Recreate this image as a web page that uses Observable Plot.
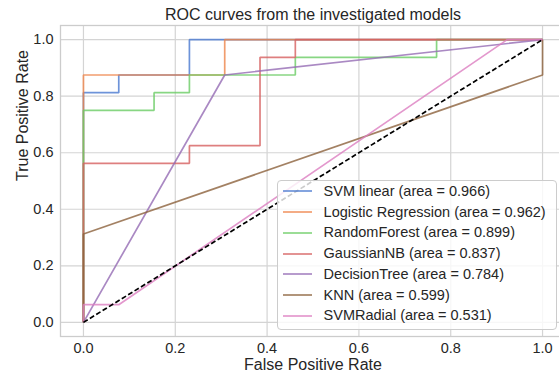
<!DOCTYPE html>
<html><head><meta charset="utf-8">
<script src="https://cdn.jsdelivr.net/npm/d3@7"></script>
<script src="https://cdn.jsdelivr.net/npm/@observablehq/plot@0.6"></script>
<style>
body{margin:0;background:#fff;}
#wrap{position:relative;width:559px;height:372px;overflow:hidden;font-family:"Liberation Sans",Arial,sans-serif;color:#262626;}
#chart{width:565px;}
#chart svg{max-width:none !important;display:block;}
#legend{position:absolute;left:277px;top:180px;width:280px;height:150px;box-sizing:border-box;border:1px solid #cccccc;border-radius:4px;background:rgba(255,255,255,0.8);font-size:14.5px;}
.row{height:20.73px;line-height:20.73px;display:flex;align-items:center;white-space:nowrap;}
.row svg{margin-left:5px;margin-right:11.6px;flex:none;}
</style></head>
<body>
<div id="wrap"><div id="chart"></div><div id="legend"></div></div>
<script>
const title = "ROC curves from the investigated models";
const xLabel = "False Positive Rate";
const yLabel = "True Positive Rate";
const models = ["SVM linear", "Logistic Regression", "RandomForest", "GaussianNB", "DecisionTree", "KNN", "SVMRadial"];
const aucs = [0.966, 0.962, 0.899, 0.837, 0.784, 0.599, 0.531];
const colors = ["#4878d0", "#ee854a", "#6acc64", "#d65f5f", "#956cb4", "#8c613c", "#dc7ec0"];
const xTicks = [0.0, 0.2, 0.4, 0.6, 0.8, 1.0];
const yTicks = [0.0, 0.2, 0.4, 0.6, 0.8, 1.0];

const svmLinearFpr = [0, 0, 0.0769, 0.0769, 0.2308, 0.2308, 1];
const svmLinearTpr = [0, 0.8125, 0.8125, 0.875, 0.875, 1, 1];
const logRegFpr = [0, 0, 0.3077, 0.3077, 1];
const logRegTpr = [0, 0.875, 0.875, 1, 1];
const rfFpr = [0, 0, 0.1538, 0.1538, 0.2308, 0.2308, 0.4615, 0.4615, 0.7692, 0.7692, 1];
const rfTpr = [0, 0.75, 0.75, 0.8125, 0.8125, 0.875, 0.875, 0.9375, 0.9375, 1, 1];
const gnbFpr = [0, 0, 0.2308, 0.2308, 0.3846, 0.3846, 0.4615, 0.4615, 1];
const gnbTpr = [0, 0.5625, 0.5625, 0.625, 0.625, 0.9375, 0.9375, 1, 1];
const dtFpr = [0, 0.3077, 1];
const dtTpr = [0, 0.875, 1];
const knnFpr = [0, 0, 1, 1];
const knnTpr = [0, 0.3125, 0.875, 1];
const svmRadialFpr = [0, 0, 0.0769, 0.9231, 1];
const svmRadialTpr = [0, 0.0625, 0.0625, 1, 1];
const chanceFpr = [0, 1];
const chanceTpr = [0, 1];

const fprs = [svmLinearFpr, logRegFpr, rfFpr, gnbFpr, dtFpr, knnFpr, svmRadialFpr];
const tprs = [svmLinearTpr, logRegTpr, rfTpr, gnbTpr, dtTpr, knnTpr, svmRadialTpr];
const rows = models.flatMap((m, i) => fprs[i].map((f, j) => ({model: m, fpr: f, tpr: tprs[i][j]})));
const chance = chanceFpr.map((f, j) => ({fpr: f, tpr: chanceTpr[j]}));

const fmt = d3.format(".1f");
const chart = Plot.plot({
  width: 565, height: 372,
  marginLeft: 60, marginRight: 0, marginTop: 25, marginBottom: 36,
  style: {fontFamily: '"Liberation Sans", Arial, sans-serif', fontSize: "14.5px", color: "#262626", background: "white", maxWidth: "none"},
  x: {domain: [-0.05, 1.05]},
  y: {domain: [-0.05, 1.05]},
  color: {domain: models, range: colors},
  marks: [
    Plot.gridX(xTicks, {stroke: "#d4d4d4", strokeOpacity: 1, strokeWidth: 1.2}),
    Plot.gridY(yTicks, {stroke: "#d4d4d4", strokeOpacity: 1, strokeWidth: 1.2}),
    Plot.frame({stroke: "#cccccc", strokeWidth: 1.3}),
    Plot.axisX(xTicks, {tickSize: 0, tickPadding: 6, tickFormat: fmt, label: null}),
    Plot.axisY(yTicks, {tickSize: 0, tickPadding: 7, tickFormat: fmt, label: null}),
    Plot.line(rows, {x: "fpr", y: "tpr", z: "model", stroke: "model", strokeWidth: 1.7, strokeOpacity: 0.8, strokeLinecap: "butt", strokeLinejoin: "miter"}),
    Plot.line(chance, {x: "fpr", y: "tpr", stroke: "black", strokeWidth: 1.7, strokeDasharray: "5,2.5", strokeLinecap: "butt"}),
    Plot.text([title], {frameAnchor: "top", dy: -10.5, fontSize: 16, lineAnchor: "middle"}),
    Plot.text([xLabel], {frameAnchor: "bottom", dy: 28, fontSize: 16, lineAnchor: "middle"}),
    Plot.text([yLabel], {frameAnchor: "left", dx: -38, rotate: -90, fontSize: 16, lineAnchor: "middle"})
  ]
});
document.getElementById("chart").append(chart);

const legend = document.getElementById("legend");
models.forEach((m, i) => {
  const row = document.createElement("div");
  row.className = "row";
  row.innerHTML = `<svg width="29" height="4"><line x1="0" x2="29" y1="2" y2="2" stroke="${colors[i]}" stroke-width="1.7" stroke-opacity="0.8"/></svg><span>${m} (area = ${aucs[i].toFixed(3)})</span>`;
  legend.append(row);
});
</script>
</body></html>
